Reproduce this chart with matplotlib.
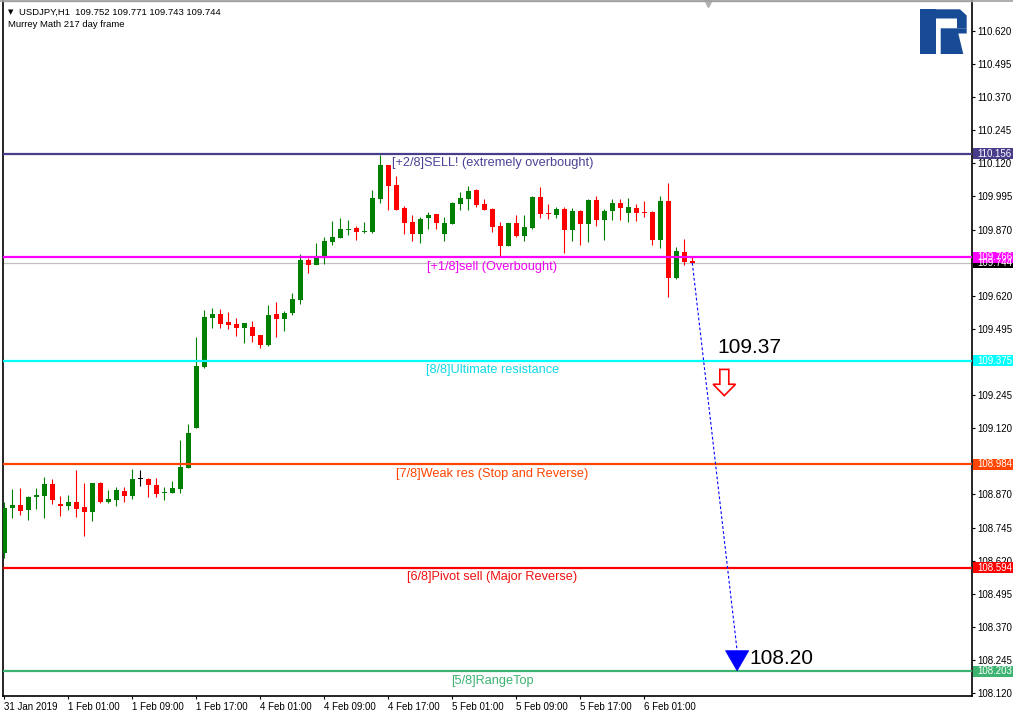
import matplotlib
matplotlib.use('Agg')
import matplotlib.pyplot as plt
import matplotlib.transforms as mtransforms
from matplotlib.patches import Rectangle, Polygon
from matplotlib.lines import Line2D

plt.rcParams['font.family'] = ['Liberation Sans', 'DejaVu Sans']

# USDJPY H1, bars from 31 Jan 17:00 to 6 Feb 07:00
opens = [108.649, 108.820, 108.830, 108.812, 108.861, 108.865, 108.909, 108.834, 108.827, 108.841,
         108.822, 108.805, 108.913, 108.842, 108.850, 108.883, 108.865, 108.927, 108.928, 108.906,
         108.877, 108.877, 108.892, 108.971, 109.122, 109.352, 109.537, 109.551, 109.521, 109.515,
         109.500, 109.502, 109.473, 109.435, 109.551, 109.534, 109.555, 109.604, 109.755, 109.736,
         109.770, 109.823, 109.838, 109.869, 109.876, 109.860, 109.861, 109.986, 110.114, 110.039,
         109.951, 109.900, 109.855, 109.915, 109.929, 109.855, 109.891, 109.968, 109.986, 110.020,
         109.967, 109.948, 109.884, 109.809, 109.895, 109.847, 109.876, 109.993, 109.934, 109.926,
         109.948, 109.870, 109.940, 109.891, 109.982, 109.906, 109.941, 109.970, 109.934, 109.952,
         109.938, 109.937, 109.831, 109.978, 109.688, 109.785, 109.752]
highs = [108.841, 108.890, 108.894, 108.864, 108.894, 108.936, 108.928, 108.864, 108.868, 108.962,
         108.913, 108.913, 108.917, 108.887, 108.898, 108.898, 108.966, 108.962, 108.932, 108.932,
         108.898, 108.921, 109.076, 109.135, 109.466, 109.566, 109.574, 109.570, 109.559, 109.536,
         109.517, 109.525, 109.473, 109.585, 109.597, 109.563, 109.631, 109.778, 109.763, 109.819,
         109.842, 109.903, 109.914, 109.906, 109.884, 109.899, 110.020, 110.152, 110.114, 110.072,
         109.960, 109.925, 109.919, 109.937, 109.929, 109.919, 109.975, 110.013, 110.035, 110.023,
         109.986, 109.952, 109.899, 109.895, 109.925, 109.925, 109.997, 110.031, 109.967, 109.955,
         109.955, 109.953, 109.944, 109.986, 109.997, 109.948, 109.986, 109.986, 109.989, 109.967,
         109.978, 109.940, 109.997, 110.047, 109.806, 109.836, 109.771]
lows = [108.630, 108.782, 108.793, 108.775, 108.816, 108.782, 108.835, 108.790, 108.812, 108.786,
        108.714, 108.771, 108.839, 108.839, 108.827, 108.842, 108.854, 108.903, 108.861, 108.861,
        108.850, 108.877, 108.874, 108.971, 109.122, 109.346, 109.500, 109.500, 109.496, 109.469,
        109.443, 109.447, 109.424, 109.432, 109.466, 109.488, 109.548, 109.589, 109.707, 109.740,
        109.740, 109.812, 109.838, 109.850, 109.831, 109.856, 109.857, 109.970, 109.944, 109.944,
        109.853, 109.827, 109.818, 109.873, 109.873, 109.828, 109.891, 109.944, 109.944, 109.957,
        109.944, 109.862, 109.771, 109.809, 109.843, 109.828, 109.872, 109.915, 109.911, 109.915,
        109.783, 109.828, 109.813, 109.823, 109.884, 109.832, 109.906, 109.906, 109.900, 109.903,
        109.919, 109.812, 109.799, 109.617, 109.685, 109.738, 109.743]
closes = [108.819, 108.830, 108.809, 108.860, 108.868, 108.909, 108.850, 108.827, 108.841, 108.816,
          108.805, 108.913, 108.842, 108.853, 108.887, 108.865, 108.928, 108.927, 108.907, 108.873,
          108.879, 108.894, 108.975, 109.101, 109.355, 109.541, 109.551, 109.515, 109.511, 109.500,
          109.517, 109.469, 109.435, 109.548, 109.534, 109.555, 109.608, 109.755, 109.736, 109.763,
          109.828, 109.842, 109.872, 109.872, 109.861, 109.866, 109.989, 110.114, 110.035, 109.944,
          109.896, 109.855, 109.910, 109.925, 109.896, 109.895, 109.972, 109.989, 110.016, 109.963,
          109.944, 109.881, 109.809, 109.895, 109.847, 109.880, 109.993, 109.930, 109.928, 109.948,
          109.870, 109.941, 109.891, 109.982, 109.906, 109.941, 109.970, 109.952, 109.955, 109.934,
          109.932, 109.831, 109.978, 109.688, 109.789, 109.749, 109.744]

# Murrey Math levels
levels = [110.156, 109.766, 109.375, 108.984, 108.594, 108.203]
level_names = ['[+2/8]SELL! (extremely overbought)', '[+1/8]sell (Overbought)',
               '[8/8]Ultimate resistance', '[7/8]Weak res (Stop and Reverse)',
               '[6/8]Pivot sell (Major Reverse)', '[5/8]RangeTop']
level_colors = ['#483D8B', '#FF00FF', '#00FFFF', '#FF4500', '#FF0000', '#3CB371']
level_text_colors = ['#4B4396', '#F000F0', '#10D8E8', '#FF4500', '#F01010', '#3CB371']

time_ticks = [0, 8, 16, 24, 32, 40, 48, 56, 64, 72, 80]
time_labels = ['31 Jan 2019', '1 Feb 01:00', '1 Feb 09:00', '1 Feb 17:00', '4 Feb 01:00',
               '4 Feb 09:00', '4 Feb 17:00', '5 Feb 01:00', '5 Feb 09:00', '5 Feb 17:00',
               '6 Feb 01:00']
price_ticks = [108.120, 108.245, 108.370, 108.495, 108.620, 108.745, 108.870, 108.995,
               109.120, 109.245, 109.370, 109.495, 109.620, 109.745, 109.870, 109.995,
               110.120, 110.245, 110.370, 110.495, 110.620]

# forecast
forecast_x = [86, 91.6]
forecast_y = [109.744, 108.28]
target_price = 108.20
resist_price = 109.37

W, H = 1013, 714
fig = plt.figure(figsize=(W / 100, H / 100), dpi=100)
ax = fig.add_axes([3 / W, 18 / H, 969 / W, 695 / H])
ax.set_xlim(-0.16, 120.96)
ax.set_ylim(108.109, 110.733)

# candles
for i in range(len(opens)):
    o, h, l, c = opens[i], highs[i], lows[i], closes[i]
    if c > o:
        col = '#008000'
    elif c < o:
        col = '#FF0000'
    else:
        col = '#000000'
    ax.vlines(i, l, h, color=col, lw=0.8, zorder=3)
    ax.bar(i, max(abs(c - o), 0.004), bottom=min(o, c), width=0.62, color=col, lw=0, zorder=3)

# current price line
ax.axhline(closes[-1], color='#C0C0C0', lw=0.9, zorder=1)

# levels
for lv, name, col, tcol in zip(levels, level_names, level_colors, level_text_colors):
    ax.axhline(lv, color=col, lw=1.6, zorder=4)
    ax.annotate(name, (61, lv), xytext=(0, -3.5), textcoords='offset pixels',
                ha='center', va='top', fontsize=9.2, color=tcol, zorder=5)

# right-axis value boxes
trans = mtransforms.blended_transform_factory(ax.transAxes, ax.transData)
box_h = 0.0415
boxes = [(closes[-1], '#000000')] + list(zip(levels, level_colors))
for val, col in boxes:
    ax.add_patch(Rectangle((1 + 1 / 969, val - box_h / 2), 41 / 969, box_h, transform=trans,
                           facecolor=col, edgecolor='none', clip_on=False, zorder=6))
    ax.text(1 + 5 / 969, val, '%.3f' % val, transform=trans, ha='left', va='center',
            fontsize=7, color='white', zorder=7, clip_on=False)

# forecast path
ax.plot(forecast_x, forecast_y, color='#0000FF', lw=0.8, dashes=(2.5, 2), zorder=5)
tx = forecast_x[1]
ax.add_patch(Polygon([(tx - 1.45, forecast_y[1]), (tx + 1.45, forecast_y[1]), (tx, target_price + 0.004)],
                     closed=True, facecolor='#0000FF', edgecolor='#0000FF', lw=0.5, zorder=6))
ax.text(tx + 1.5, target_price + 0.03, '%.2f' % target_price, fontsize=15, ha='left',
        va='baseline', color='black', zorder=6)
ax.text(89.1, resist_price + 0.033, '%.2f' % resist_price, fontsize=15, ha='left',
        va='baseline', color='black', zorder=6)

# hollow down arrow
ax_c, ay = 90, resist_price - 0.028
arrow = [(ax_c - 0.56, ay), (ax_c + 0.56, ay), (ax_c + 0.56, ay - 0.056), (ax_c + 1.4, ay - 0.056),
         (ax_c, ay - 0.099), (ax_c - 1.4, ay - 0.056), (ax_c - 0.56, ay - 0.056)]
ax.add_patch(Polygon(arrow, closed=True, facecolor='white', edgecolor='#FF0000', lw=1.2, zorder=6))

# axes styling (tick labels fully covered by value boxes are left blank)
ax.yaxis.tick_right()
ax.set_yticks(price_ticks)
ax.set_yticklabels(['' if min(abs(p - v) for v, _ in boxes) < 0.02 else '%.3f' % p
                    for p in price_ticks])
ax.set_xticks(time_ticks)
ax.set_xticklabels(time_labels, ha='left')
ax.tick_params(axis='both', direction='out', length=2.5, width=0.8, labelsize=7, pad=1.5,
               colors='black')
ax.tick_params(axis='x', pad=2)
for s in ['left', 'right', 'bottom']:
    ax.spines[s].set_color('black')
    ax.spines[s].set_linewidth(1.2)
ax.spines['top'].set_color('#A0A0A0')
ax.spines['top'].set_linewidth(1)

# chart shift marker
ax.plot(88, 0.997, marker='v', ms=6, color='#B0B0B0',
        transform=mtransforms.blended_transform_factory(ax.transData, ax.transAxes),
        clip_on=False, zorder=6)

# header
fig.text(8 / W, 1 - 12.5 / H, '\u25BC', fontsize=5, family='DejaVu Sans', va='center')
fig.text(19 / W, 1 - 12.5 / H, 'USDJPY,H1  109.752 109.771 109.743 109.744', fontsize=6.8, va='center')
fig.text(8 / W, 1 - 24.3 / H, 'Murrey Math 217 day frame', fontsize=6.8, va='center')
fig.add_artist(Line2D([0, 1], [1 - 0.6 / H, 1 - 0.6 / H], color='#A0A0A0', lw=1.2,
                      transform=fig.transFigure))


# logo
def px(x, y):
    return (x / W, 1 - y / H)


logo_col = '#184B96'
logo_shapes = [
    [(920, 9.3), (935.5, 9.3), (935.5, 54), (920, 54)],
    [(935, 9.3), (960, 9.3), (966.7, 15.5), (966.7, 28.3), (957, 28.3), (957, 18.5), (935, 18.5)],
    [(940.7, 28.3), (966.7, 28.3), (966.7, 33.5), (958.3, 33.5), (963.3, 54), (940.7, 54)],
]
for shp in logo_shapes:
    fig.add_artist(Polygon([px(x, y) for x, y in shp], closed=True, facecolor=logo_col,
                           edgecolor='none', transform=fig.transFigure))

fig.savefig('out.png', dpi=100)
